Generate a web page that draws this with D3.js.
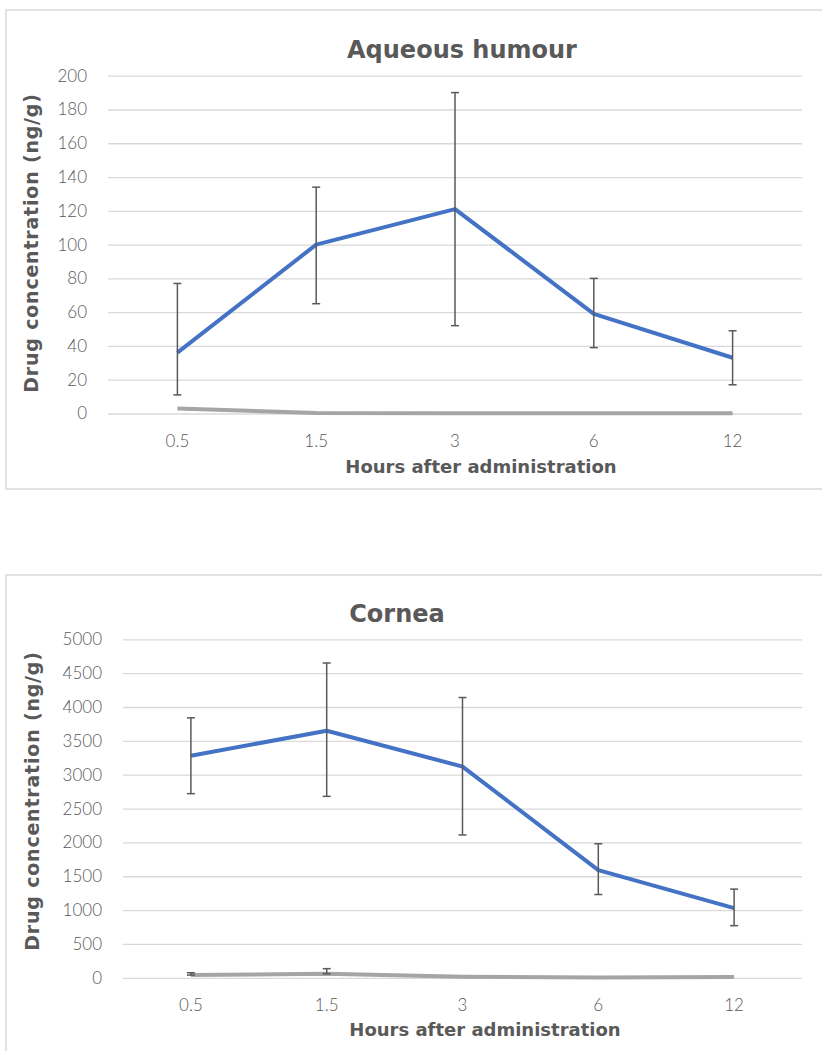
<!DOCTYPE html>
<html>
<head>
<meta charset="utf-8">
<script src="https://cdn.jsdelivr.net/npm/d3@7"></script>
<style>
body { margin: 0; background: #fff; }
</style>
</head>
<body>
<div id="chart-area"></div>
<script>
// shared categories
var hours = ["0.5", "1.5", "3", "6", "12"];

// Aqueous humour
var aqBlue   = [36, 100, 121, 59, 33];
var aqBlueHi = [77, 134, 190, 80, 49];
var aqBlueLo = [11, 65, 52, 39, 17];
var aqGrey   = [3, 0.3, 0.2, 0.2, 0.2];
var aqTicks  = [0, 20, 40, 60, 80, 100, 120, 140, 160, 180, 200];

// Cornea
var coBlue   = [3280, 3650, 3120, 1590, 1030];
var coBlueHi = [3840, 4650, 4140, 1980, 1310];
var coBlueLo = [2720, 2680, 2110, 1230, 770];
var coGrey   = [40, 60, 15, 5, 10];
var coGreyHi = [75, 135, 15, 5, 10];
var coGreyLo = [40, 60, 15, 5, 10];
var coTicks  = [0, 500, 1000, 1500, 2000, 2500, 3000, 3500, 4000, 4500, 5000];

var svg = d3.select("#chart-area").append("svg")
    .attr("width", 822)
    .attr("height", 1051);

var boldFont = "'DejaVu Sans', sans-serif";
var tickFont = "Lato, sans-serif";

function drawChart(c) {
    var g = svg.append("g");

    // outer frame (runs off the right edge like the reference)
    g.append("rect")
        .attr("x", c.box[0]).attr("y", c.box[1])
        .attr("width", c.box[2]).attr("height", c.box[3])
        .attr("fill", "none")
        .attr("stroke", "#d9d9d9")
        .attr("stroke-width", 1.5);

    var x = d3.scaleBand()
        .domain(hours)
        .range([c.left, c.right]);

    var y = d3.scaleLinear()
        .domain([0, d3.max(c.ticks)])
        .range([c.bottom, c.top]);

    // gridlines
    g.append("g")
        .attr("transform", "translate(" + c.left + ",0)")
        .call(d3.axisLeft(y).tickValues(c.ticks).tickSize(-(c.right - c.left)).tickFormat(""))
        .call(a => a.select(".domain").remove())
        .selectAll("line")
        .attr("stroke", "#d9d9d9")
        .attr("stroke-width", 1.3);

    // y tick labels
    g.append("g")
        .attr("transform", "translate(" + (c.left - 21) + ",0)")
        .call(d3.axisLeft(y).tickValues(c.ticks).tickSize(0).tickPadding(0).tickFormat(d3.format("d")))
        .call(a => a.select(".domain").remove())
        .selectAll("text")
        .style("font-family", tickFont)
        .style("font-weight", 300)
        .style("font-size", "17px")
        .attr("fill", "#595959");

    // x tick labels
    g.append("g")
        .attr("transform", "translate(0," + c.bottom + ")")
        .call(d3.axisBottom(x).tickSize(0).tickPadding(21))
        .call(a => a.select(".domain").remove())
        .selectAll("text")
        .style("font-family", tickFont)
        .style("font-weight", 300)
        .style("font-size", "17px")
        .attr("fill", "#595959");

    var cx = d => x(d) + x.bandwidth() / 2;
    var line = d3.line()
        .x((d, i) => cx(hours[i]))
        .y(d => y(d));

    // grey series
    g.append("path")
        .datum(c.grey)
        .attr("fill", "none")
        .attr("stroke", "#a5a5a5")
        .attr("stroke-width", 4)
        .attr("stroke-linejoin", "round")
        .attr("d", line);

    // blue series
    g.append("path")
        .datum(c.blue)
        .attr("fill", "none")
        .attr("stroke", "#4472c4")
        .attr("stroke-width", 4)
        .attr("stroke-linejoin", "round")
        .attr("d", line);

    // error bars
    function errorBars(hi, lo) {
        var eb = g.append("g")
            .attr("stroke", "#595959")
            .attr("stroke-width", 1.5);
        hours.forEach((h, i) => {
            if (hi[i] === lo[i]) return;
            eb.append("line")
                .attr("x1", cx(h)).attr("x2", cx(h))
                .attr("y1", y(hi[i])).attr("y2", y(lo[i]));
            [hi[i], lo[i]].forEach(v => {
                eb.append("line")
                    .attr("x1", cx(h) - 4).attr("x2", cx(h) + 4)
                    .attr("y1", y(v)).attr("y2", y(v));
            });
        });
    }
    errorBars(c.blueHi, c.blueLo);
    if (c.greyHi) errorBars(c.greyHi, c.greyLo);

    // title
    g.append("text")
        .attr("x", c.titleX)
        .attr("y", c.titleY)
        .attr("text-anchor", "middle")
        .style("font-family", boldFont)
        .style("font-size", "24px")
        .style("font-weight", "bold")
        .attr("fill", "#595959")
        .text(c.title);

    // x axis title
    g.append("text")
        .attr("x", c.xTitleX)
        .attr("y", c.xTitleY)
        .attr("text-anchor", "middle")
        .style("font-family", boldFont)
        .style("font-size", "18px")
        .style("font-weight", "bold")
        .attr("fill", "#595959")
        .text("Hours after administration");

    // y axis title
    g.append("text")
        .attr("transform", "translate(" + c.yTitleX + "," + c.yTitleY + ") rotate(-90)")
        .attr("text-anchor", "middle")
        .style("font-family", boldFont)
        .style("font-size", "19px")
        .style("letter-spacing", "0.8px")
        .style("font-weight", "bold")
        .attr("fill", "#595959")
        .text("Drug concentration (ng/g)");
}

drawChart({
    box: [6, 10, 830, 479],
    left: 108, right: 802, top: 75.7, bottom: 413.5,
    ticks: aqTicks,
    blue: aqBlue, blueHi: aqBlueHi, blueLo: aqBlueLo,
    grey: aqGrey,
    title: "Aqueous humour", titleX: 462, titleY: 58,
    xTitleX: 481, xTitleY: 473,
    yTitleX: 38, yTitleY: 243
});

drawChart({
    box: [6, 575, 830, 500],
    left: 123, right: 802, top: 639.3, bottom: 977.8,
    ticks: coTicks,
    blue: coBlue, blueHi: coBlueHi, blueLo: coBlueLo,
    grey: coGrey, greyHi: coGreyHi, greyLo: coGreyLo,
    title: "Cornea", titleX: 397, titleY: 622,
    xTitleX: 485, xTitleY: 1036,
    yTitleX: 39, yTitleY: 801
});
</script>
</body>
</html>
